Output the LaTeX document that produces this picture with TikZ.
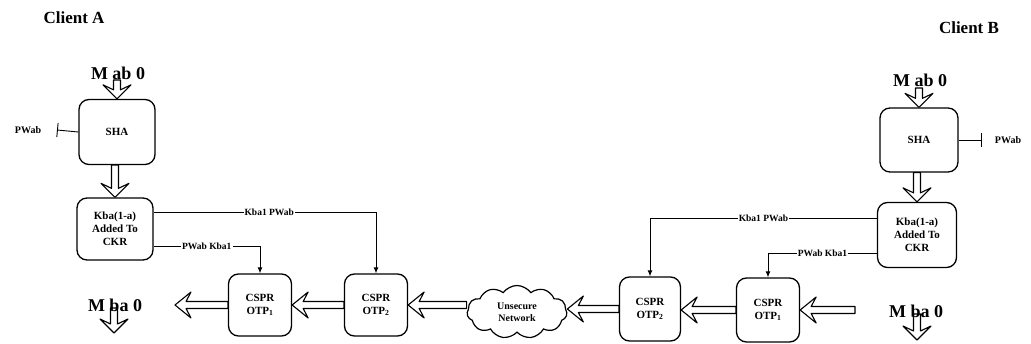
\documentclass[tikz,border=0pt]{standalone}
\usepackage{fontspec}
\setmainfont{Liberation Serif}
\usetikzlibrary{shapes.symbols,calc,arrows.meta}
\tikzset{
  box/.style={draw, line width=1.3pt, rounded corners=10pt, font=\bfseries\fontsize{11}{13}\selectfont, align=center, inner sep=0pt},
  harrow/.style={line width=1.1pt, line join=round, fill=white},
  conn/.style={line width=0.9pt, -{Latex[length=6pt,width=5pt]}},
  lbl/.style={fill=white, inner sep=1pt, font=\bfseries\fontsize{9.5}{11}\selectfont},
  cltitle/.style={font=\bfseries\fontsize{17}{19}\selectfont},
  msg/.style={font=\bfseries\fontsize{18}{20}\selectfont},
  pwlbl/.style={font=\bfseries\fontsize{10}{12}\selectfont},
  pwline/.style={line width=0.9pt, -{Bar[width=14pt,line width=0.9pt]}}
}
\newcommand\hdown[2]{%
  \draw[harrow] let \p1=(#1), \p2=(#2) in
    (\x2-3.5pt,\y1) -- (\x2-3.5pt,\y2+9pt) -- (\x2-14pt,\y2+14pt) -- (\x2,\y2)
    -- (\x2+14pt,\y2+14pt) -- (\x2+3.5pt,\y2+9pt) -- (\x2+3.5pt,\y1) -- cycle;}
\newcommand\hleft[2]{%
  \draw[harrow] let \p1=(#1), \p2=(#2) in
    (\x1,\y1+3.5pt) -- (\x2+11pt,\y1+3.5pt) -- (\x2+16pt,\y1+13pt) -- (\x2,\y1)
    -- (\x2+16pt,\y1-13pt) -- (\x2+11pt,\y1-3.5pt) -- (\x1,\y1-3.5pt) -- cycle;}
\begin{document}
\begin{tikzpicture}[x=1pt,y=-1pt]
\useasboundingbox (0,0) rectangle (1031,344);
% boxes
\node[box, minimum width=76, minimum height=65] (lsha) at (117,132) {SHA};
\node[box, minimum width=76, minimum height=62] (lkba) at (115,229) {Kba(1-a)\\Added To\\CKR};
\node[box, minimum width=63, minimum height=62] (lotp1) at (260,305) {CSPR\\OTP\textsubscript{1}};
\node[box, minimum width=63, minimum height=62] (lotp2) at (376,305) {CSPR\\OTP\textsubscript{2}};
\node[cloud, draw, line width=1.2pt, cloud puffs=11, cloud puff arc=110, aspect=2,
      minimum width=100, minimum height=53, inner sep=0pt, align=center,
      font=\bfseries\fontsize{10}{12}\selectfont] (cloud) at (517,312) {Unsecure\\Network};
\node[box, minimum width=61, minimum height=64] (rotp2) at (650,309) {CSPR\\OTP\textsubscript{2}};
\node[box, minimum width=63, minimum height=64] (rotp1) at (768,310) {CSPR\\OTP\textsubscript{1}};
\node[box, minimum width=79, minimum height=65] (rkba) at (917,235) {Kba(1-a)\\Added To\\CKR};
\node[box, minimum width=78, minimum height=64] (rsha) at (919,140) {SHA};
% titles
\node[cltitle] (ca) at (74,18) {Client A};
\node[cltitle] (cb) at (969,28) {Client B};
% PWab inputs
\node[pwlbl] (lpw) at (28,130) {PWab};
\coordinate (lpwbar) at (57,130);
\draw[pwline] (lsha.west) -- (lpwbar);
\node[pwlbl] (rpw) at (1008,140) {PWab};
\coordinate (rpwbar) at (982,140);
\draw[pwline] (rsha.east) -- (rpwbar);
% thin connectors
\draw[conn] (lkba.east |- 0,212) -| (lotp2.north) node[lbl, pos=0.26] {Kba1 PWab};
\draw[conn] (lkba.east |- 0,246) -| (lotp1.north) node[lbl, pos=0.25] {PWab Kba1};
\draw[conn] (rkba.west |- 0,218) -| (rotp2.north) node[lbl, pos=0.25] {Kba1 PWab};
\draw[conn] (rkba.west |- 0,253) -| (rotp1.north) node[lbl, pos=0.25] {PWab Kba1};
% hollow down arrows
\coordinate (lmabT) at (117,80);
\coordinate (rmabT) at (919,88);
\coordinate (lmbaT) at (114,308);
\coordinate (lmbaH) at (114,333);
\coordinate (rmbaT) at (917,314);
\coordinate (rmbaH) at (917,340);
\hdown{lmabT}{lsha.north}
\hdown{lsha.south}{lkba.north}
\hdown{rmabT}{rsha.north}
\hdown{rsha.south}{rkba.north}
\hdown{lmbaT}{lmbaH}
\hdown{rmbaT}{rmbaH}
% hollow left arrows
\coordinate (lend) at (175,305);
\coordinate (rstart) at (855,310);
\hleft{lotp1.west}{lend}
\hleft{lotp2.west}{lotp1.east}
\hleft{cloud.west |- lotp2.east}{lotp2.east}
\hleft{rotp2.west}{cloud.east |- rotp2.west}
\hleft{rotp1.west}{rotp2.east}
\hleft{rstart}{rotp1.east}
% message labels
\node[msg] (lmab) at (118,73) {M ab 0};
\node[msg] (rmab) at (920,80) {M ab 0};
\node[msg] (lmba) at (115,305) {M ba 0};
\node[msg] (rmba) at (916,311) {M ba 0};
\end{tikzpicture}
\end{document}
